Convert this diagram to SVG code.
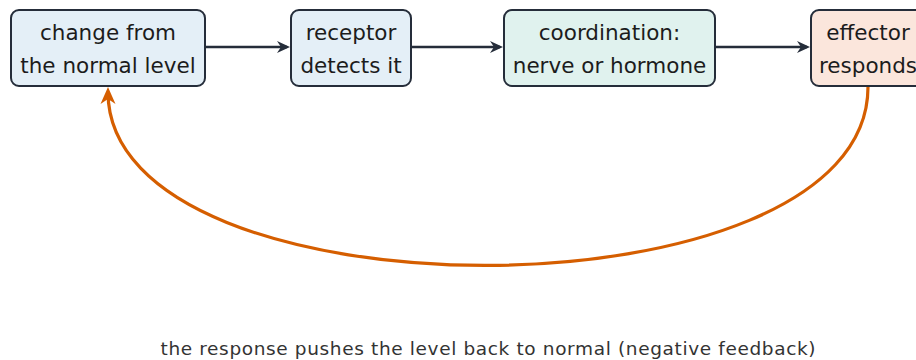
<svg xmlns="http://www.w3.org/2000/svg" width="916" height="360" viewBox="0 0 916 360">
  <style>
    .box { stroke: #252d3a; stroke-width: 2; }
    .blue { fill: #e4eff7; }
    .teal { fill: #e0f2ee; }
    .peach { fill: #fbe6dc; }
    .lbl { font-family: "DejaVu Sans", "Liberation Sans", sans-serif; font-size: 21.5px; fill: #1c1c1c; text-anchor: middle; }
    .cap { font-family: "DejaVu Sans", "Liberation Sans", sans-serif; font-size: 18.5px; fill: #333333; text-anchor: middle; }
    .conn { fill: none; stroke: #252d3a; stroke-width: 2.6; }
    .fb { fill: none; stroke: #d55e00; stroke-width: 3.2; }
  </style>
  <defs>
    <marker id="ahDark" markerUnits="userSpaceOnUse" viewBox="-15 -8 19 16" refX="-3" refY="0" markerWidth="19" markerHeight="16" orient="auto">
      <path d="M0,0 L-13,-6 L-9,0 L-13,6 Z" fill="#252d3a"/>
    </marker>
    <marker id="ahOrange" markerUnits="userSpaceOnUse" viewBox="-19 -9 23 18" refX="-5" refY="0" markerWidth="23" markerHeight="18" orient="auto">
      <path d="M0,0 L-17,-7.5 L-12,0 L-17,7.5 Z" fill="#d55e00"/>
    </marker>
  </defs>

  <g id="connectors">
    <path class="conn" d="M206,47 L287,47" marker-end="url(#ahDark)"/>
    <path class="conn" d="M412,47 L500,47" marker-end="url(#ahDark)"/>
    <path class="conn" d="M716,47 L807,47" marker-end="url(#ahDark)"/>
    <path class="fb" d="M868,87 C868,324 108,324 108,92" marker-end="url(#ahOrange)"/>
  </g>

  <g id="change">
    <rect class="box blue" x="11" y="10" width="194" height="76" rx="8"/>
    <text class="lbl" x="108" y="40">change from</text>
    <text class="lbl" x="108" y="73">the normal level</text>
  </g>
  <g id="receptor">
    <rect class="box blue" x="291" y="10" width="120" height="76" rx="8"/>
    <text class="lbl" x="351" y="40">receptor</text>
    <text class="lbl" x="351" y="73">detects it</text>
  </g>
  <g id="coordination">
    <rect class="box teal" x="504" y="10" width="211" height="76" rx="8"/>
    <text class="lbl" x="609.5" y="40">coordination:</text>
    <text class="lbl" x="609.5" y="73">nerve or hormone</text>
  </g>
  <g id="effector">
    <rect class="box peach" x="811" y="10" width="114" height="76" rx="8"/>
    <text class="lbl" x="868" y="40">effector</text>
    <text class="lbl" x="868" y="73">responds</text>
  </g>

  <g id="caption">
    <text class="cap" x="488" y="355" textLength="655" lengthAdjust="spacing">the response pushes the level back to normal (negative feedback)</text>
  </g>
</svg>
